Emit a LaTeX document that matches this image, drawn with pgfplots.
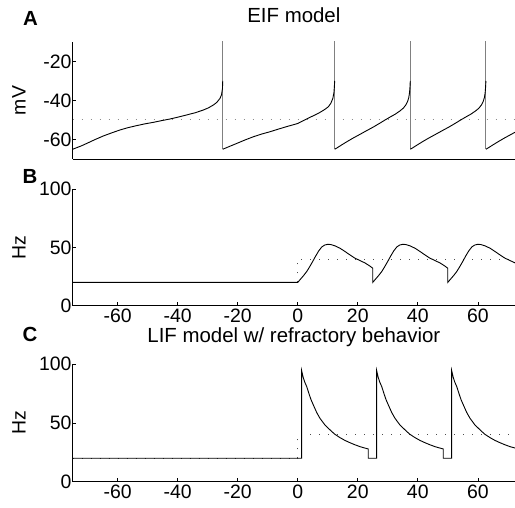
\documentclass[border=0pt]{standalone}
\usepackage{fontspec}
\setmainfont{Liberation Sans}
\usepackage{pgfplots}
\pgfplotsset{compat=1.18}

\pgfplotsset{
  panel/.style={
    scale only axis, width=442.3bp,
    xmin=-75, xmax=72.4,
    axis x line*=bottom, axis y line*=left,
    tick align=inside, major tick length=3.5bp,
    tick style={black, line width=0.6bp},
    axis line style={line width=0.8bp},
    ticklabel style={font=\fontsize{19.5}{23}\selectfont},
    yticklabel style={inner xsep=0.1em},
    /pgf/number format/assume math mode=true,
    ylabel style={at={(axis description cs:-0.1214,0.5)}, anchor=center,
      font=\fontsize{19.5}{23}\selectfont},
    title style={at={(0.5,1)}, anchor=base, font=\fontsize{20.5}{24}\selectfont},
    clip=true,
  },
  trace/.style={black, line width=0.9bp},
  thr/.style={line width=1bp, dash pattern=on 1bp off 8bp},
}

\begin{document}
\begin{tikzpicture}[x=1bp,y=1bp]
\path[use as bounding box] (0,0) rectangle (515,508);

% ---- A: EIF membrane potential
\begin{axis}[panel, at={(72.7bp,349bp)}, anchor=south west, height=117bp,
  ymin=-70, ymax=-10, ytick={-60,-40,-20}, xtick=\empty,
  ylabel={mV}, title={EIF model}, title style={yshift=13.7bp}]
\addplot[thr, black!45] coordinates {(-75,-50) (72.4,-50)};
\addplot[gray, line width=0.9bp] coordinates {(-25,-65) (-25,0)};
\addplot[gray, line width=0.9bp] coordinates {(12.3,-65) (12.3,0)};
\addplot[gray, line width=0.9bp] coordinates {(37.5,-65) (37.5,0)};
\addplot[gray, line width=0.9bp] coordinates {(62.7,-65) (62.7,0)};
\addplot[trace] coordinates {
  (-75,-65) (-72,-63.2) (-70.3,-62) (-67.5,-60) (-64.8,-58.2) (-62,-56.6)
  (-59.2,-55.1) (-56.5,-53.9) (-53.7,-52.9) (-51,-52) (-48.1,-51.2)
  (-45.3,-50.3) (-42.6,-49.5) (-39.8,-48.5) (-37,-47.4) (-34.2,-46.3)
  (-31.5,-44.9) (-29.8,-43.8) (-28.1,-42.3) (-27,-41) (-25.9,-38.9)
  (-25.4,-37) (-25.1,-34) (-25,-30)};
\addplot[trace] coordinates {
  (-25,-65) (-22.5,-63.4) (-20.3,-62) (-17.5,-60.2) (-14.8,-58.6) (-12,-57.2)
  (-9.2,-56) (-6.5,-54.7) (-3.7,-53.4) (0,-51.8) (2,-50.2) (4.1,-48.6)
  (5.8,-47.4) (7.4,-46.1) (9,-44.6) (10.2,-43.2) (11,-41.5) (11.7,-38.9)
  (12.05,-36) (12.2,-33) (12.3,-30)};
\addplot[trace] coordinates {
  (12.3,-65) (13.3,-64.1) (14.3,-63.1) (16.3,-61.2) (18.3,-59.4) (20.8,-57.3)
  (22.8,-55.6) (25.2,-53.6) (27.5,-51.5) (29.3,-49.8) (31,-48.3) (32.6,-46.9)
  (34.1,-45.3) (35.2,-43.9) (36,-42.3) (36.6,-40.5) (37,-38.5) (37.25,-36)
  (37.4,-33) (37.5,-30)};
\addplot[trace] coordinates {
  (37.5,-65) (38.5,-64.1) (39.5,-63.1) (41.5,-61.2) (43.5,-59.4) (46,-57.3)
  (48,-55.6) (50.4,-53.6) (52.7,-51.5) (54.5,-49.8) (56.2,-48.3) (57.8,-46.9)
  (59.3,-45.3) (60.4,-43.9) (61.2,-42.3) (61.8,-40.5) (62.2,-38.5) (62.45,-36)
  (62.6,-33) (62.7,-30)};
\addplot[trace] coordinates {
  (62.7,-65) (63.7,-64.1) (64.7,-63.1) (66.7,-61.2) (68.7,-59.4) (71.2,-57.3)
  (72.4,-56.3)};
\end{axis}

% ---- B: EIF rate
\begin{axis}[panel, at={(72.7bp,202.3bp)}, anchor=south west, height=116.7bp,
  ymin=0, ymax=100, ytick={0,50,100}, xtick={-60,-40,...,60},
  ylabel={Hz}]
\addplot[thr, black!70] coordinates {(-75,20) (0,20) (0,40) (72.4,40)};
\addplot[trace] coordinates {
  (-75,20) (0,20) (1,23) (2,26) (3,29.3) (4,33.5) (5,38) (6,42.7) (7,47)
  (8,50.3) (9,52) (10,52.6) (11,52.4) (12.5,51.2) (14.1,49.2) (15.7,46.5)
  (17.4,43.5) (19,40.8) (20.8,38.6) (22.5,36.5) (24,34) (25,32.1)
  (25,20) (26,23) (27,26) (28,29.3) (29,33.5) (30,38) (31,42.7) (32,47)
  (33,50.3) (34,52) (35,52.6) (36,52.4) (37.5,51.2) (39.1,49.2) (40.7,46.5)
  (42.4,43.5) (44,40.8) (45.8,38.6) (47.5,36.5) (49,34) (50,32.1)
  (50,20) (51,23) (52,26) (53,29.3) (54,33.5) (55,38) (56,42.7) (57,47)
  (58,50.3) (59,52) (60,52.6) (61,52.4) (62.5,51.2) (64.1,49.2) (65.7,46.5)
  (67.4,43.5) (69,40.8) (70.8,38.6) (72.4,36.7)};
\end{axis}

% ---- C: LIF rate
\begin{axis}[panel, at={(72.7bp,26.3bp)}, anchor=south west, height=117.4bp,
  ymin=0, ymax=100, ytick={0,50,100}, xtick={-60,-40,...,60},
  ylabel={Hz}, title={LIF model w/ refractory behavior}, title style={yshift=16bp}]
\addplot[thr, black!70] coordinates {(-75,20) (0,20) (0,40) (72.4,40)};
\addplot[trace] coordinates {
  (-75,20) (1.3,20) (1.3,94.5) (1.8,89) (2.3,85) (3,80.9) (3.8,74.5) (4.4,70)
  (5.2,65.3) (6.3,59) (7.4,54) (9,48.5) (10.8,44) (12.3,40.5) (14.1,37.5)
  (15.7,35.2) (17.4,33.2) (19.1,31.4) (20.8,29.8) (22.3,28.7) (23.5,27.9)
  (23.5,20) (26.3,20) (26.3,94.5) (26.8,89) (27.3,85) (28,80.9) (28.8,74.5)
  (29.4,70) (30.2,65.3) (31.3,59) (32.4,54) (34,48.5) (35.8,44) (37.3,40.5)
  (39.1,37.5) (40.7,35.2) (42.4,33.2) (44.1,31.4) (45.8,29.8) (47.3,28.7)
  (48.5,27.9) (48.5,20) (51.3,20) (51.3,94.5) (51.8,89) (52.3,85) (53,80.9)
  (53.8,74.5) (54.4,70) (55.2,65.3) (56.3,59) (57.4,54) (59,48.5) (60.8,44)
  (62.3,40.5) (64.1,37.5) (65.7,35.2) (67.4,33.2) (69.1,31.4) (70.8,29.8)
  (72.4,28.7)};
\end{axis}

\node[anchor=base, font=\fontsize{20.5}{24}\selectfont\bfseries] at (30.5,482.3) {A};
\node[anchor=base, font=\fontsize{20.5}{24}\selectfont\bfseries] at (30,324.6) {B};
\node[anchor=base, font=\fontsize{20.5}{24}\selectfont\bfseries] at (30,166.3) {C};
\end{tikzpicture}
\end{document}
